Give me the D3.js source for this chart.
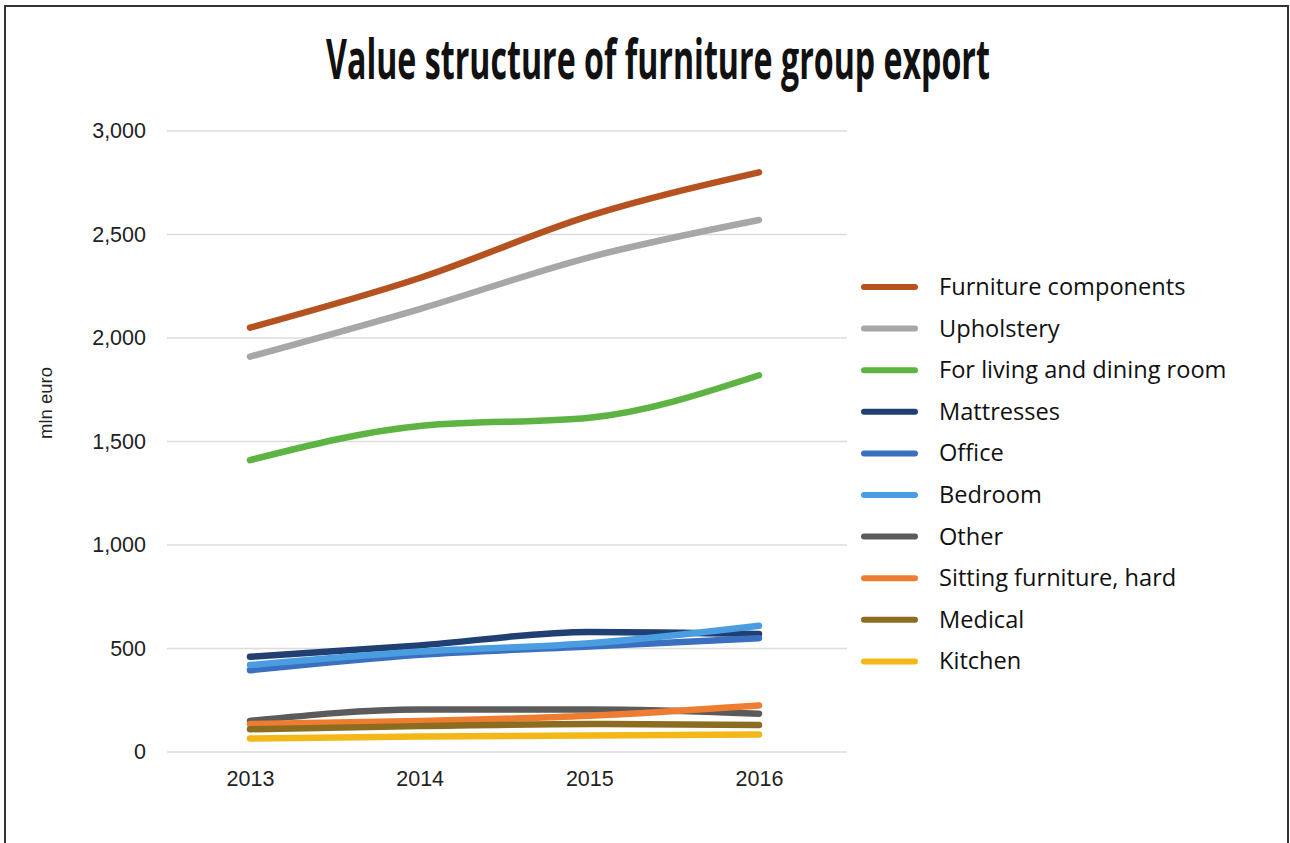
<!DOCTYPE html>
<html>
<head>
<meta charset="utf-8">
<script src="https://cdn.jsdelivr.net/npm/d3@7"></script>
<style>
  html, body { margin: 0; padding: 0; background: #fff; }
  svg { display: block; }
</style>
</head>
<body>
<svg id="chart" width="1290" height="843"></svg>
<script>
const years = ["2013", "2014", "2015", "2016"];
const seriesNames = ["Furniture components", "Upholstery", "For living and dining room", "Mattresses", "Office", "Bedroom", "Other", "Sitting furniture, hard", "Medical", "Kitchen"];
const furnitureComponents = [2050, 2290, 2590, 2800];
const upholstery = [1910, 2140, 2390, 2570];
const livingDining = [1410, 1575, 1615, 1820];
const mattresses = [460, 515, 580, 570];
const office = [395, 470, 510, 550];
const bedroom = [420, 485, 525, 610];
const other = [150, 205, 205, 185];
const sitting = [135, 150, 175, 225];
const medical = [110, 125, 135, 130];
const kitchen = [65, 75, 80, 85];
const yTicks = [0, 500, 1000, 1500, 2000, 2500, 3000];
const colors = ["#b5521f", "#a7a7a7", "#5db443", "#203f73", "#3b6fc0", "#4a9de0", "#5b5b5b", "#ef7d31", "#8c6c1f", "#f3b818"];

const values = [furnitureComponents, upholstery, livingDining, mattresses, office, bedroom, other, sitting, medical, kitchen];
const series = seriesNames.map((name, i) => ({ name, color: colors[i], values: values[i] }));

const svg = d3.select("#chart");

// frame
svg.append("rect").attr("x", 5).attr("y", 6).attr("width", 1283).attr("height", 860)
  .attr("fill", "none").attr("stroke", "#333").attr("stroke-width", 2);

// title (horizontally condensed to mimic a bold condensed face)
const titleG = svg.append("g");
const title = titleG.append("text").attr("x", 0).attr("y", 0).attr("text-anchor", "middle")
  .attr("font-family", "'Liberation Sans Narrow', 'Open Sans', sans-serif").attr("font-weight", "bold")
  .attr("font-size", 55).attr("fill", "#111")
  .text("Value structure of furniture group export");
const tw = title.node().getComputedTextLength();
titleG.attr("transform", `translate(658,79) scale(${664 / tw},1)`);

const x = d3.scalePoint().domain(years).range([250, 759]);
const y = d3.scaleLinear().domain([0, 3000]).range([752, 131]);

// gridlines
svg.append("g").selectAll("line").data(yTicks).join("line")
  .attr("x1", 167).attr("x2", 847)
  .attr("y1", d => y(d)).attr("y2", d => y(d))
  .attr("stroke", "#dcdcdc").attr("stroke-width", 1.5);

// y axis labels
const yAxis = d3.axisLeft(y).tickValues(yTicks).tickFormat(d3.format(",")).tickSize(0).tickPadding(0);
const gy = svg.append("g").attr("transform", "translate(146,0)").call(yAxis);
gy.select(".domain").remove();
gy.selectAll("text").attr("font-family", "'Liberation Sans', Arial, sans-serif").attr("font-size", 21.5).attr("fill", "#222");

// x axis labels
const xAxis = d3.axisBottom(x).tickSize(0).tickPadding(0);
const gx = svg.append("g").attr("transform", "translate(0,771)").call(xAxis);
gx.select(".domain").remove();
gx.selectAll("text").attr("font-family", "'Liberation Sans', Arial, sans-serif").attr("font-size", 21.5).attr("fill", "#222");

// y axis title
svg.append("text").attr("transform", "translate(52,403) rotate(-90)").attr("text-anchor", "middle")
  .attr("font-family", "'Liberation Sans', Arial, sans-serif").attr("font-size", 18.5).attr("fill", "#222")
  .text("mln euro");

// lines
const line = d3.line().x((d, i) => x(years[i])).y(d => y(d)).curve(d3.curveMonotoneX);
svg.append("g").selectAll("path").data(series).join("path")
  .attr("d", d => line(d.values))
  .attr("fill", "none").attr("stroke", d => d.color).attr("stroke-width", 6.5)
  .attr("stroke-linecap", "round").attr("stroke-linejoin", "round");

// legend
const lg = svg.append("g").selectAll("g").data(series).join("g")
  .attr("transform", (d, i) => `translate(0,${287 + i * 41.6})`);
lg.append("line").attr("x1", 864).attr("x2", 915).attr("y1", 0).attr("y2", 0)
  .attr("stroke", d => d.color).attr("stroke-width", 6).attr("stroke-linecap", "round");
lg.append("text").attr("x", 939).attr("y", 8)
  .attr("font-family", "'Open Sans', 'Noto Sans', sans-serif").attr("font-size", 23.6).attr("fill", "#111")
  .text(d => d.name);
</script>
</body>
</html>
